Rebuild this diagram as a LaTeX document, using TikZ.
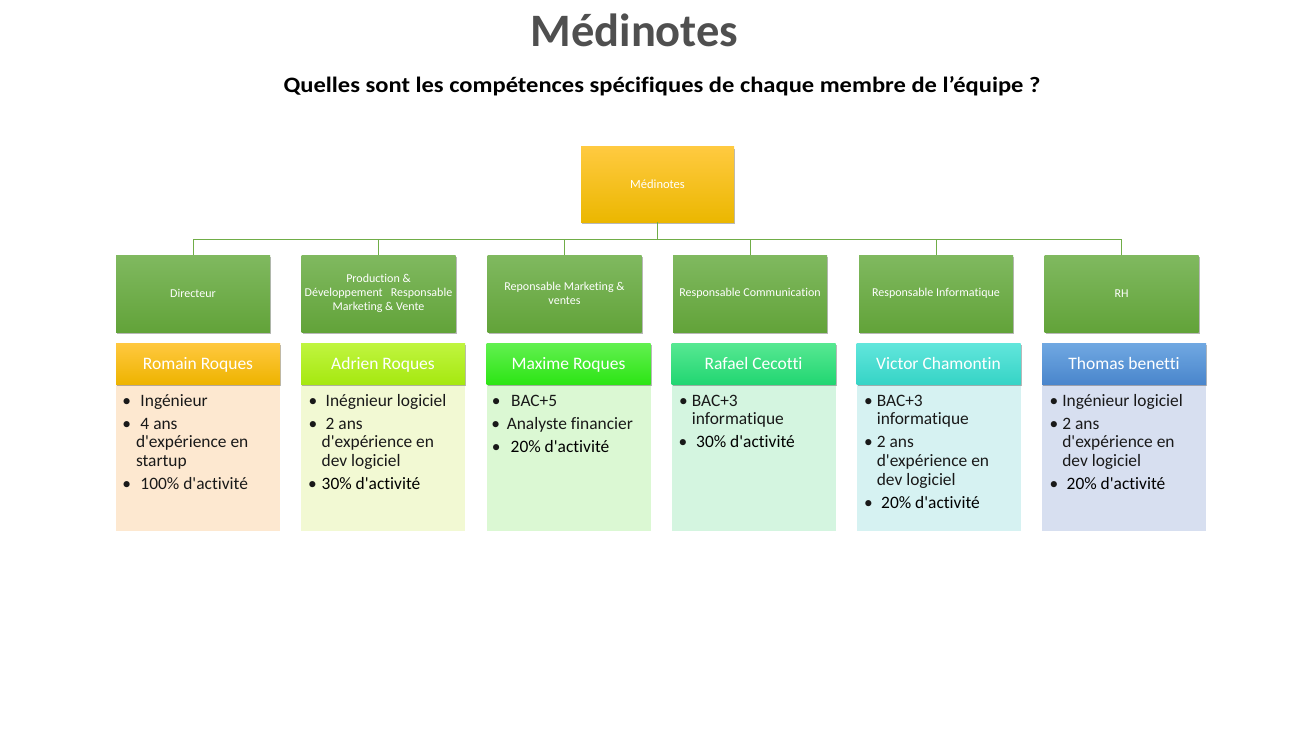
\documentclass[tikz,border=0pt]{standalone}
\usepackage{fontspec}
\setmainfont{Carlito}[Ligatures={NoCommon}]
\usetikzlibrary{shadows}
\definecolor{titleG}{HTML}{4F4F4F}
\definecolor{gTop}{HTML}{80B960}
\definecolor{gBot}{HTML}{62A339}
\definecolor{connG}{HTML}{70AD47}
\definecolor{topT}{HTML}{FFCA40}
\definecolor{topB}{HTML}{EBB700}
\definecolor{hAt}{HTML}{FFC840}\definecolor{hAb}{HTML}{EEB400}\definecolor{bA}{HTML}{FDE8D0}
\definecolor{hBt}{HTML}{C0F540}\definecolor{hBb}{HTML}{A6E810}\definecolor{bB}{HTML}{F2F9D3}
\definecolor{hCt}{HTML}{62F050}\definecolor{hCb}{HTML}{2DE515}\definecolor{bC}{HTML}{DBF8D3}
\definecolor{hDt}{HTML}{57E892}\definecolor{hDb}{HTML}{22D672}\definecolor{bD}{HTML}{D4F5E0}
\definecolor{hEt}{HTML}{62E6DC}\definecolor{hEb}{HTML}{36D4C6}\definecolor{bE}{HTML}{D6F2F2}
\definecolor{hFt}{HTML}{70A8E2}\definecolor{hFb}{HTML}{4A86CC}\definecolor{bF}{HTML}{D7DFF0}
\newcommand\ap{\textquotesingle}
\newcommand\fs{\rule{0pt}{14pt}}
\newcommand\bl[3]{\hspace*{#1pt}\makebox[0pt][c]{•}\hspace*{\dimexpr#2pt-#1pt\relax}#3}
\newcommand\cl[2]{\hspace*{#1pt}#2}
\begin{document}
\begin{tikzpicture}[x=1pt,y=-1pt,
  conn/.style={draw=connG, line width=1pt},
  shad/.style={drop shadow={shadow xshift=1.3pt, shadow yshift=-1.8pt, fill=black, opacity=0.28}},
  gbox/.style={shad, minimum width=154pt, minimum height=77pt, inner sep=0pt,
    top color=gTop, bottom color=gBot, text=white, align=center,
    font=\fontsize{12}{13.7}\selectfont},
  topbox/.style={shad, minimum width=153pt, minimum height=75pt, inner sep=0pt,
    top color=topT, bottom color=topB, text=white,
    font=\fontsize{12.5}{15}\selectfont},
  hdr/.style={shad, minimum width=164pt, minimum height=41pt, inner sep=0pt,
    text=white, text height=11pt, text depth=0pt,
    font=\fontsize{17.5}{21}\selectfont},
  bodybox/.style={minimum width=164pt, minimum height=147pt, inner sep=0pt},
  btext/.style={anchor=north west, inner sep=0pt, yshift=-8pt, align=left,
    text=black!90, font=\fontsize{17.4}{18.7}\selectfont}
]
\useasboundingbox[fill=white] (0,0) rectangle (1302,733);

\node (title) at (634.5,46.7) [anchor=base, text=titleG,
  font=\fontsize{46.5}{54}\selectfont\bfseries] {Médinotes};
\node (subtitle) at (662,93) [anchor=base, text=black,
  font=\fontsize{22}{26}\selectfont\bfseries]
  {\scalebox{1.115}[1]{Quelles sont les compétences spécifiques de chaque membre de l’équipe ?}};

\node[topbox] (top) at (657.5,184.5) {Médinotes};

\node[gbox] (g1) at (193,293.5) {Directeur};
\node[gbox] (g2) at (378.5,293.5) {Production \&\\Développement\ \ \ Responsable\\Marketing \& Vente};
\node[gbox] (g3) at (564.5,293.5) {Reponsable Marketing \&\\ventes};
\node[gbox] (g4) at (750,293.5) {Responsable Communication};
\node[gbox] (g5) at (936,293.5) {Responsable Informatique};
\node[gbox] (g6) at (1121.5,293.5) {RH};

\coordinate (bus) at ([yshift=-17pt]top.south);
\draw[conn, line width=1.5pt] (top.south) -- (bus);
\foreach \i in {1,...,6} \draw[conn] (bus) -| (g\i.north);

% bodies
\node[bodybox, fill=bA] (b1) at (198,457.5) {};
\node[bodybox, fill=bB] (b2) at (383,457.5) {};
\node[bodybox, fill=bC] (b3) at (568.5,457.5) {};
\node[bodybox, fill=bD] (b4) at (753.5,457.5) {};
\node[bodybox, fill=bE] (b5) at (938.5,457.5) {};
\node[bodybox, fill=bF] (b6) at (1124,457.5) {};

% headers
\node[hdr, top color=hAt, bottom color=hAb] (h1) at (198,363.5) {Romain Roques};
\node[hdr, top color=hBt, bottom color=hBb] (h2) at (383,363.5) {Adrien Roques};
\node[hdr, top color=hCt, bottom color=hCb] (h3) at (568.5,363.5) {Maxime Roques};
\node[hdr, top color=hDt, bottom color=hDb] (h4) at (753.5,363.5) {Rafael Cecotti};
\node[hdr, top color=hEt, bottom color=hEb] (h5) at (938.5,363.5) {Victor Chamontin};
\node[hdr, top color=hFt, bottom color=hFb] (h6) at (1124,363.5) {Thomas benetti};

% body texts
\node[btext] (t1) at (b1.north west) {\fs\bl{10.7}{24.5}{Ingénieur}\\[4.3pt]
  \bl{10.7}{24.5}{4 ans}\\\cl{20}{d\ap expérience en}\\\cl{20}{startup}\\[4.3pt]
  \bl{10.7}{24.5}{100\% d\ap activité}};
\node[btext] (t2) at (b2.north west) {\fs\bl{12}{24.7}{Inégnieur logiciel}\\[4.3pt]
  \bl{12}{24.7}{2 ans}\\\cl{20.7}{d\ap expérience en}\\\cl{20.7}{dev logiciel}\\[4.3pt]
  \bl{11.5}{20.7}{\textcolor{black}{30\% d\ap activité}}};
\node[btext] (t3) at (b3.north west) {\fs\bl{9.7}{24.7}{BAC+5}\\[4.3pt]
  \bl{9.2}{20.3}{Analyste financier}\\[4.3pt]
  \bl{9.7}{24.2}{\textcolor{black}{20\% d\ap activité}}};
\node[btext] (t4) at (b4.north west) {\fs\bl{12}{20.3}{BAC+3}\\\cl{20.3}{informatique}\\[4.3pt]
  \bl{11.5}{24.7}{\textcolor{black}{30\% d\ap activité}}};
\node[btext] (t5) at (b5.north west) {\fs\bl{12}{20.3}{BAC+3}\\\cl{20.3}{informatique}\\[4.3pt]
  \bl{12}{20.3}{2 ans}\\\cl{20.3}{d\ap expérience en}\\\cl{20.3}{dev logiciel}\\[4.3pt]
  \bl{12}{24.7}{\textcolor{black}{20\% d\ap activité}}};
\node[btext] (t6) at (b6.north west) {\fs\bl{12}{20.3}{Ingénieur logiciel}\\[4.3pt]
  \bl{12}{20.3}{2 ans}\\\cl{20.3}{d\ap expérience en}\\\cl{20.3}{dev logiciel}\\[4.3pt]
  \bl{12}{24.7}{\textcolor{black}{20\% d\ap activité}}};
\end{tikzpicture}
\end{document}
